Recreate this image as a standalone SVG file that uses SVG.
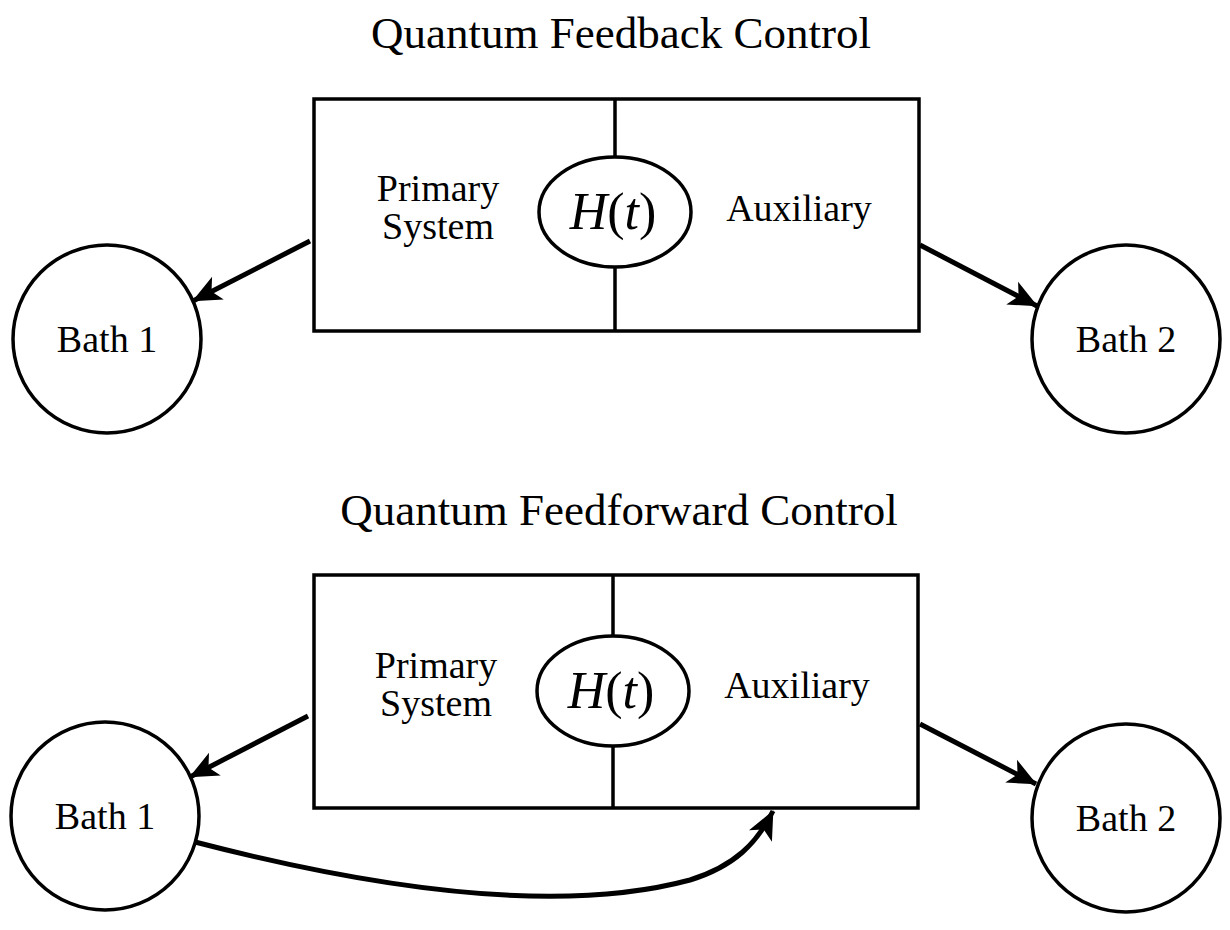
<svg xmlns="http://www.w3.org/2000/svg" width="1230" height="930" viewBox="0 0 1230 930">
<style>
.ln{fill:none;stroke:#000;stroke-width:3.5}
.t{font-family:"Liberation Serif",serif;fill:#000;text-anchor:middle}
.title{font-size:45px}
.lbl{font-size:38px}
.h{font-size:52px;font-style:italic}
.hp{font-style:normal}
.ar{fill:none;stroke:#000;stroke-width:5}
</style>
<defs>
<marker id="ah" viewBox="0 0 10 10" refX="9" refY="5" markerWidth="8" markerHeight="8" markerUnits="userSpaceOnUse" orient="auto" overflow="visible">
<path d="M-26,-11 L10,5 L-26,21 L-17,5 Z" fill="#000"/>
</marker>
</defs>
<rect width="1230" height="930" fill="#fff"/>
<g id="top">
<text class="t title" x="621" y="48">Quantum Feedback Control</text>
<g id="box1">
<rect class="ln" x="314" y="99" width="605" height="232"/>
<line class="ln" x1="615" y1="99" x2="615" y2="157"/>
<line class="ln" x1="615" y1="267" x2="615" y2="331"/>
<text class="t lbl" x="438" y="201">Primary</text>
<text class="t lbl" x="438" y="239">System</text>
<text class="t lbl" x="799" y="221">Auxiliary</text>
</g>
<g id="h1">
<ellipse class="ln" cx="615" cy="212" rx="76" ry="55"/>
<text class="t h" x="613" y="229">H<tspan class="hp">(</tspan>t<tspan class="hp">)</tspan></text>
</g>
<g id="bath1a">
<circle class="ln" cx="107" cy="339" r="94"/>
<text class="t lbl" x="107" y="352">Bath 1</text>
</g>
<g id="bath2a">
<circle class="ln" cx="1126" cy="339" r="94"/>
<text class="t lbl" x="1126" y="352">Bath 2</text>
</g>
</g>
<g id="bottom">
<text class="t title" x="619" y="525">Quantum Feedforward Control</text>
<g id="box2">
<rect class="ln" x="314" y="575" width="604" height="233"/>
<line class="ln" x1="613" y1="575" x2="613" y2="636"/>
<line class="ln" x1="613" y1="746" x2="613" y2="808"/>
<text class="t lbl" x="436" y="678">Primary</text>
<text class="t lbl" x="436" y="716">System</text>
<text class="t lbl" x="797" y="698">Auxiliary</text>
</g>
<g id="h2">
<ellipse class="ln" cx="613" cy="691" rx="76" ry="55"/>
<text class="t h" x="611" y="708">H<tspan class="hp">(</tspan>t<tspan class="hp">)</tspan></text>
</g>
<g id="bath1b">
<circle class="ln" cx="105" cy="816" r="94"/>
<text class="t lbl" x="105" y="829">Bath 1</text>
</g>
<g id="bath2b">
<circle class="ln" cx="1126" cy="818" r="94"/>
<text class="t lbl" x="1126" y="831">Bath 2</text>
</g>
</g>
<g id="connectors">
<line class="ar" x1="310" y1="241" x2="193" y2="301" marker-end="url(#ah)"/>
<line class="ar" x1="920" y1="245" x2="1037" y2="306" marker-end="url(#ah)"/>
<line class="ar" x1="308" y1="716" x2="190" y2="777" marker-end="url(#ah)"/>
<line class="ar" x1="920" y1="724" x2="1036" y2="784" marker-end="url(#ah)"/>
<path class="ar" d="M195,842 C380,890 560,915 690,880 C735,866 757,843 773,811" marker-end="url(#ah)"/>
</g>
</svg>
